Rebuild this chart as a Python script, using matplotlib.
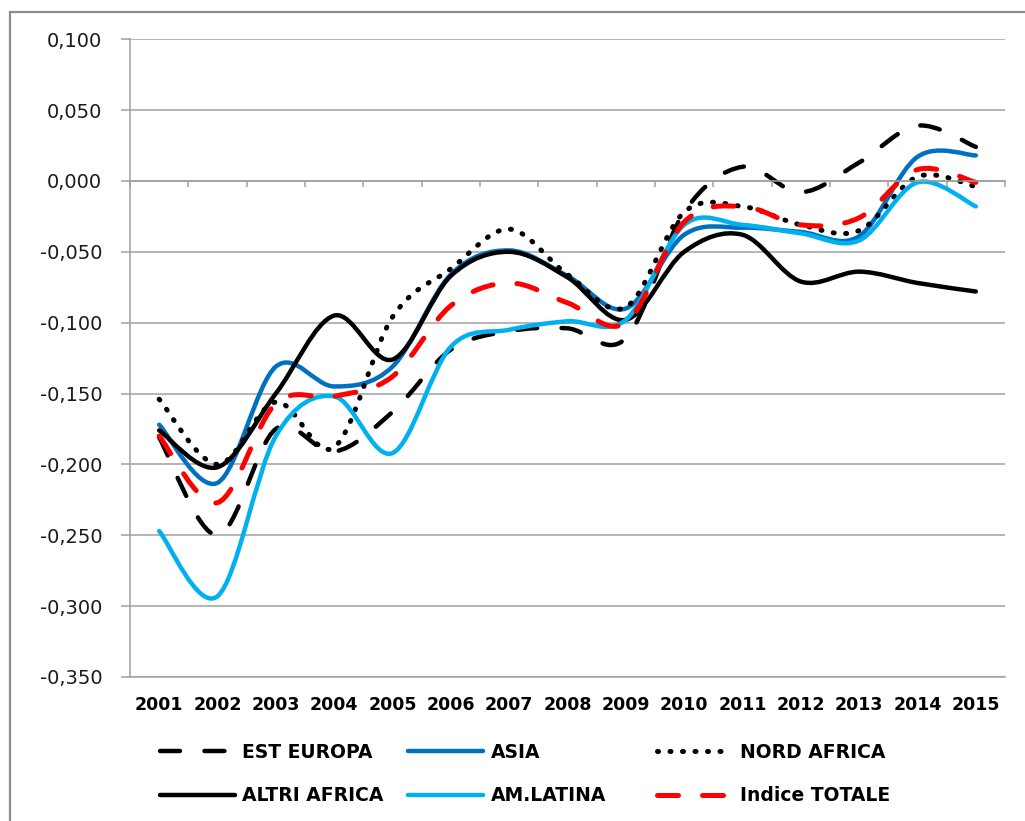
import numpy as np
import matplotlib
matplotlib.use("Agg")
import matplotlib.pyplot as plt
from matplotlib.path import Path
from matplotlib.patches import PathPatch, Rectangle
from matplotlib.lines import Line2D
from matplotlib.ticker import FuncFormatter

# dati
anni = ["2001", "2002", "2003", "2004", "2005", "2006", "2007", "2008",
        "2009", "2010", "2011", "2012", "2013", "2014", "2015"]

est_europa = [-0.181, -0.250, -0.175, -0.191, -0.163, -0.119, -0.106, -0.104,
              -0.111, -0.022, 0.010, -0.008, 0.013, 0.039, 0.024]
asia = [-0.172, -0.213, -0.131, -0.145, -0.131, -0.066, -0.049, -0.067,
        -0.090, -0.038, -0.033, -0.036, -0.039, 0.017, 0.018]
nord_africa = [-0.154, -0.200, -0.156, -0.188, -0.096, -0.062, -0.034, -0.066,
               -0.089, -0.022, -0.018, -0.031, -0.035, 0.003, -0.004]
altri_africa = [-0.176, -0.202, -0.150, -0.095, -0.126, -0.067, -0.050, -0.068,
                -0.098, -0.050, -0.038, -0.071, -0.064, -0.072, -0.078]
am_latina = [-0.247, -0.293, -0.180, -0.152, -0.192, -0.117, -0.105, -0.099,
             -0.098, -0.031, -0.031, -0.037, -0.042, -0.001, -0.018]
indice_totale = [-0.180, -0.227, -0.157, -0.152, -0.138, -0.088, -0.072, -0.086,
                 -0.100, -0.029, -0.018, -0.031, -0.026, 0.008, -0.001]

GRIGIO = "#a0a0a0"


def curva(xs, ys):
    # linea smussata tipo Excel (Bezier cubiche)
    pts = np.column_stack([xs, ys]).astype(float)
    n = len(pts)
    verts = [pts[0]]
    codes = [Path.MOVETO]
    for i in range(n - 1):
        p0 = pts[i - 1] if i > 0 else pts[i]
        p1 = pts[i]
        p2 = pts[i + 1]
        p3 = pts[i + 2] if i + 2 < n else pts[i + 1]
        verts += [p1 + (p2 - p0) / 6, p2 - (p3 - p1) / 6, p2]
        codes += [Path.CURVE4] * 3
    return Path(verts, codes)


serie = [
    ("EST EUROPA", est_europa, "black", 3.2, (0, (4.5, 5.5))),
    ("ASIA", asia, "#0070c0", 3.2, "-"),
    ("NORD AFRICA", nord_africa, "black", 3.6, (0, (0.2, 2.3))),
    ("ALTRI AFRICA", altri_africa, "black", 3.2, "-"),
    ("AM.LATINA", am_latina, "#00b0f0", 3.2, "-"),
    ("Indice TOTALE", indice_totale, "#ff0000", 3.6, (0, (4.2, 4.8))),
]

fig = plt.figure(figsize=(10.25, 8.21), dpi=100)
ax = fig.add_axes([130 / 1025, 1 - 677 / 821, 875 / 1025, (677 - 39.2) / 821])

x = np.arange(len(anni))
maniglie = {}
for nome, vals, col, lw, ls in serie:
    p = PathPatch(curva(x, vals), fill=False, edgecolor=col, lw=lw, linestyle=ls,
                  capstyle="round", joinstyle="round")
    ax.add_patch(p)
    maniglie[nome] = Line2D([], [], color=col, lw=lw, linestyle=ls,
                            dash_capstyle="round", solid_capstyle="round")

ax.set_xlim(-0.5, len(anni) - 0.5)
ax.set_ylim(-0.35, 0.10)
ax.set_yticks(np.arange(-0.35, 0.1001, 0.05))
ax.yaxis.set_major_formatter(FuncFormatter(
    lambda v, pos: ("%.3f" % (0.0 if abs(v) < 1e-9 else v)).replace(".", ",")))
ax.yaxis.grid(True, color=GRIGIO, lw=1.1)
ax.set_axisbelow(True)
ax.tick_params(axis="y", length=6.5, width=1.1, color=GRIGIO, pad=13.5,
               labelsize=14, labelcolor="#1a1a1a")

for s in ["top", "right"]:
    ax.spines[s].set_visible(False)
ax.spines["left"].set_color(GRIGIO)
ax.spines["left"].set_linewidth(1.1)
ax.spines["bottom"].set_position(("data", 0))
ax.spines["bottom"].set_color(GRIGIO)
ax.spines["bottom"].set_linewidth(1.1)
ax.set_xticks(np.arange(-0.5, len(anni), 1.0))
ax.set_xticklabels([])
ax.tick_params(axis="x", length=4.3, width=1.1, color=GRIGIO, direction="out")

sec = ax.secondary_xaxis("bottom")
sec.set_xticks(x)
sec.set_xticklabels(anni, fontsize=12.5, fontweight="bold")
sec.tick_params(length=0, pad=14)
sec.spines["bottom"].set_color(GRIGIO)
sec.spines["bottom"].set_linewidth(1.1)

# legenda su tre colonne
colonne = [(160, ["EST EUROPA", "ALTRI AFRICA"]),
           (408, ["ASIA", "AM.LATINA"]),
           (657, ["NORD AFRICA", "Indice TOTALE"])]
for xc, nomi in colonne:
    leg = fig.legend([maniglie[n] for n in nomi], nomi, loc="center left",
                     bbox_to_anchor=(xc / 1025, 1 - 774 / 821), frameon=False,
                     borderpad=0, borderaxespad=0, handlelength=4.0,
                     handletextpad=0.4, labelspacing=1.3,
                     prop={"weight": "bold", "size": 13.5})

fig.patches.append(Rectangle((10 / 1025, -0.1), 1.2, 1.1 - 12 / 821,
                             transform=fig.transFigure, fill=False,
                             edgecolor="#8c8c8c", lw=1.6, clip_on=False))

fig.savefig("out.png", dpi=100)
